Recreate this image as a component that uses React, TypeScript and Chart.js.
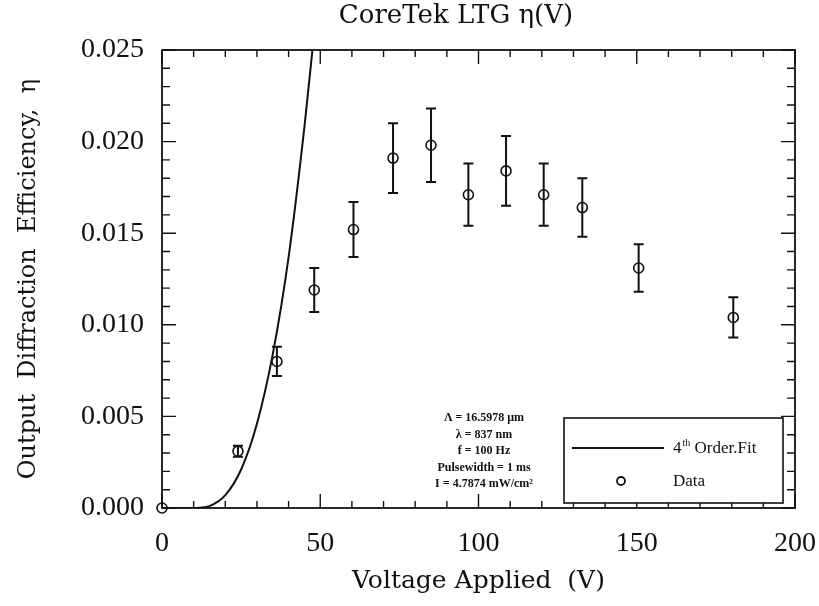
import { useEffect, useRef } from "react";
import { Chart, registerables } from "chart.js";

Chart.register(...registerables);

// Measured diffraction efficiency vs applied voltage
const voltage = [0, 24, 36.3, 48.1, 60.5, 73, 85, 96.8, 108.7, 120.6, 132.8, 150.6, 180.5];
const efficiency = [0, 0.0031, 0.008, 0.0119, 0.0152, 0.0191, 0.0198, 0.0171, 0.0184, 0.0171, 0.0164, 0.0131, 0.0104];
const efficiencyError = [0, 0.0003, 0.0008, 0.0012, 0.0015, 0.0019, 0.002, 0.0017, 0.0019, 0.0017, 0.0016, 0.0013, 0.0011];

// 4th order fit curve
const fitVoltage = [0, 5, 10, 12, 15, 20, 25, 30, 35, 40, 45, 48];
const fitEfficiency = [0, 0, 0, 0.00002, 0.0001, 0.0007, 0.0021, 0.0046, 0.0084, 0.0137, 0.0208, 0.0258];

const xTicks = [0, 50, 100, 150, 200];
const yTicks = [0, 0.005, 0.01, 0.015, 0.02, 0.025];

const chartTitle = "CoreTek LTG η(V)";
const xTitle = "Voltage Applied  (V)";
const yTitle = "Output  Diffraction  Efficiency,  η";
const conditions = ["Λ = 16.5978 μm", "λ = 837 nm", "f = 100 Hz", "Pulsewidth = 1 ms", "I = 4.7874 mW/cm²"];
const fitLabel = { base: "4", sup: "th", rest: " Order.Fit" };
const dataLabel = "Data";

const INK = "#111";
const SERIF = "'DejaVu Serif', serif";
const TICK_FONT = "'Liberation Serif', serif";

const errorBars = {
  id: "errorBars",
  beforeDatasetsDraw(chart: any) {
    const { ctx, scales } = chart;
    const x = scales.x;
    const y = scales.y;
    ctx.save();
    ctx.strokeStyle = INK;
    ctx.lineWidth = 2;
    voltage.forEach((v, i) => {
      const e = efficiencyError[i];
      if (!e) return;
      const px = x.getPixelForValue(v);
      const top = y.getPixelForValue(efficiency[i] + e);
      const bot = y.getPixelForValue(efficiency[i] - e);
      ctx.beginPath();
      ctx.moveTo(px, top);
      ctx.lineTo(px, bot);
      ctx.moveTo(px - 5, top);
      ctx.lineTo(px + 5, top);
      ctx.moveTo(px - 5, bot);
      ctx.lineTo(px + 5, bot);
      ctx.stroke();
    });
    ctx.restore();
  },
};

// Box frame with inward ticks on all four sides
const frame = {
  id: "frame",
  beforeDatasetsDraw(chart: any) {
    const { ctx, chartArea: a, scales } = chart;
    const x = scales.x;
    const y = scales.y;
    ctx.save();
    ctx.strokeStyle = INK;
    ctx.lineWidth = 1.8;
    ctx.strokeRect(a.left, a.top, a.right - a.left, a.bottom - a.top);
    ctx.lineWidth = 1.4;
    ctx.beginPath();
    for (let k = 0; k <= 20; k++) {
      const px = x.getPixelForValue(k * 10);
      const len = k % 5 === 0 ? 14 : 7;
      ctx.moveTo(px, a.bottom);
      ctx.lineTo(px, a.bottom - len);
      ctx.moveTo(px, a.top);
      ctx.lineTo(px, a.top + len);
    }
    for (let k = 0; k <= 25; k++) {
      const py = y.getPixelForValue(k / 1000);
      const len = k % 5 === 0 ? 14 : 8;
      ctx.moveTo(a.left, py);
      ctx.lineTo(a.left + len, py);
      ctx.moveTo(a.right, py);
      ctx.lineTo(a.right - len, py);
    }
    ctx.stroke();
    ctx.restore();
  },
};

const decorations = {
  id: "decorations",
  afterDraw(chart: any) {
    const { ctx } = chart;
    ctx.save();
    ctx.fillStyle = INK;

    // title
    ctx.font = `26px ${SERIF}`;
    ctx.textAlign = "center";
    ctx.textBaseline = "middle";
    ctx.fillText(chartTitle, 456, 16);

    // measurement conditions
    ctx.font = `bold 12px 'Liberation Serif', serif`;
    conditions.forEach((line, i) => {
      ctx.fillText(line, 484, 418 + i * 16.5);
    });

    // legend box
    const lx = 564, ly = 418, lw = 219, lh = 85;
    ctx.fillStyle = "#fff";
    ctx.fillRect(lx, ly, lw, lh);
    ctx.strokeStyle = INK;
    ctx.lineWidth = 1.6;
    ctx.strokeRect(lx, ly, lw, lh);

    ctx.lineWidth = 2;
    ctx.beginPath();
    ctx.moveTo(572, 448);
    ctx.lineTo(664, 448);
    ctx.stroke();

    ctx.fillStyle = INK;
    ctx.textAlign = "left";
    ctx.font = `17px 'Liberation Serif', serif`;
    ctx.fillText(fitLabel.base, 673, 449);
    const w4 = ctx.measureText(fitLabel.base).width;
    ctx.font = `10px 'Liberation Serif', serif`;
    ctx.fillText(fitLabel.sup, 673 + w4 + 1, 443);
    const wSup = ctx.measureText(fitLabel.sup).width;
    ctx.font = `17px 'Liberation Serif', serif`;
    ctx.fillText(fitLabel.rest, 673 + w4 + wSup + 1, 449);

    ctx.lineWidth = 1.8;
    ctx.beginPath();
    ctx.arc(621, 481, 4, 0, Math.PI * 2);
    ctx.stroke();
    ctx.fillText(dataLabel, 673, 482);

    ctx.restore();
  },
};

export default function App() {
  const canvasRef = useRef<HTMLCanvasElement | null>(null);

  useEffect(() => {
    const canvas = canvasRef.current;
    if (!canvas) return;
    const chart = new Chart(canvas, {
      type: "scatter",
      data: {
        datasets: [
          {
            label: "4th Order Fit",
            data: fitVoltage.map((v, i) => ({ x: v, y: fitEfficiency[i] })),
            showLine: true,
            borderColor: INK,
            borderWidth: 2,
            pointRadius: 0,
            cubicInterpolationMode: "monotone",
            fill: false,
          },
          {
            label: "Data",
            data: voltage.map((v, i) => ({ x: v, y: efficiency[i] })),
            showLine: false,
            pointRadius: 5,
            pointBorderWidth: 1.6,
            pointBorderColor: INK,
            pointBackgroundColor: "rgba(0,0,0,0)",
            clip: false,
          } as any,
        ],
      },
      options: {
        animation: false,
        responsive: false,
        devicePixelRatio: 1,
        layout: { padding: { top: 50, right: 24, left: 0, bottom: 0 } },
        plugins: {
          legend: { display: false },
          tooltip: { enabled: false },
          title: { display: false },
        },
        scales: {
          x: {
            type: "linear",
            min: 0,
            max: 200,
            afterBuildTicks: (s: any) => {
              s.ticks = xTicks.map((v) => ({ value: v }));
            },
            afterFit: (s: any) => {
              s.height = 98;
              s.paddingLeft = 0;
              s.paddingRight = 0;
            },
            grid: { display: false, drawTicks: false },
            border: { display: false },
            ticks: {
              color: INK,
              font: { family: TICK_FONT, size: 28 },
              padding: 19,
              maxRotation: 0,
              callback: (v: any) => String(v),
            },
            title: {
              display: true,
              text: xTitle,
              color: INK,
              font: { family: SERIF, size: 25 },
              padding: { top: 0, bottom: 10 },
            },
          },
          y: {
            type: "linear",
            min: 0,
            max: 0.025,
            afterBuildTicks: (s: any) => {
              s.ticks = yTicks.map((v) => ({ value: v }));
            },
            afterFit: (s: any) => {
              s.width = 162;
              s.paddingTop = 0;
              s.paddingBottom = 0;
            },
            grid: { display: false, drawTicks: false },
            border: { display: false },
            ticks: {
              color: INK,
              font: { family: TICK_FONT, size: 28 },
              padding: 18,
              callback: (v: any) => Number(v).toFixed(3),
            },
            title: {
              display: true,
              text: yTitle,
              color: INK,
              font: { family: SERIF, size: 24 },
              padding: { top: 14, bottom: 0 },
            },
          },
        },
      },
      plugins: [frame, errorBars, decorations],
    });
    return () => chart.destroy();
  }, []);

  return (
    <div style={{ position: "absolute", left: 0, top: 0, width: 819, height: 606, background: "#fff" }}>
      <canvas ref={canvasRef} width={819} height={606} style={{ display: "block" }} />
    </div>
  );
}
